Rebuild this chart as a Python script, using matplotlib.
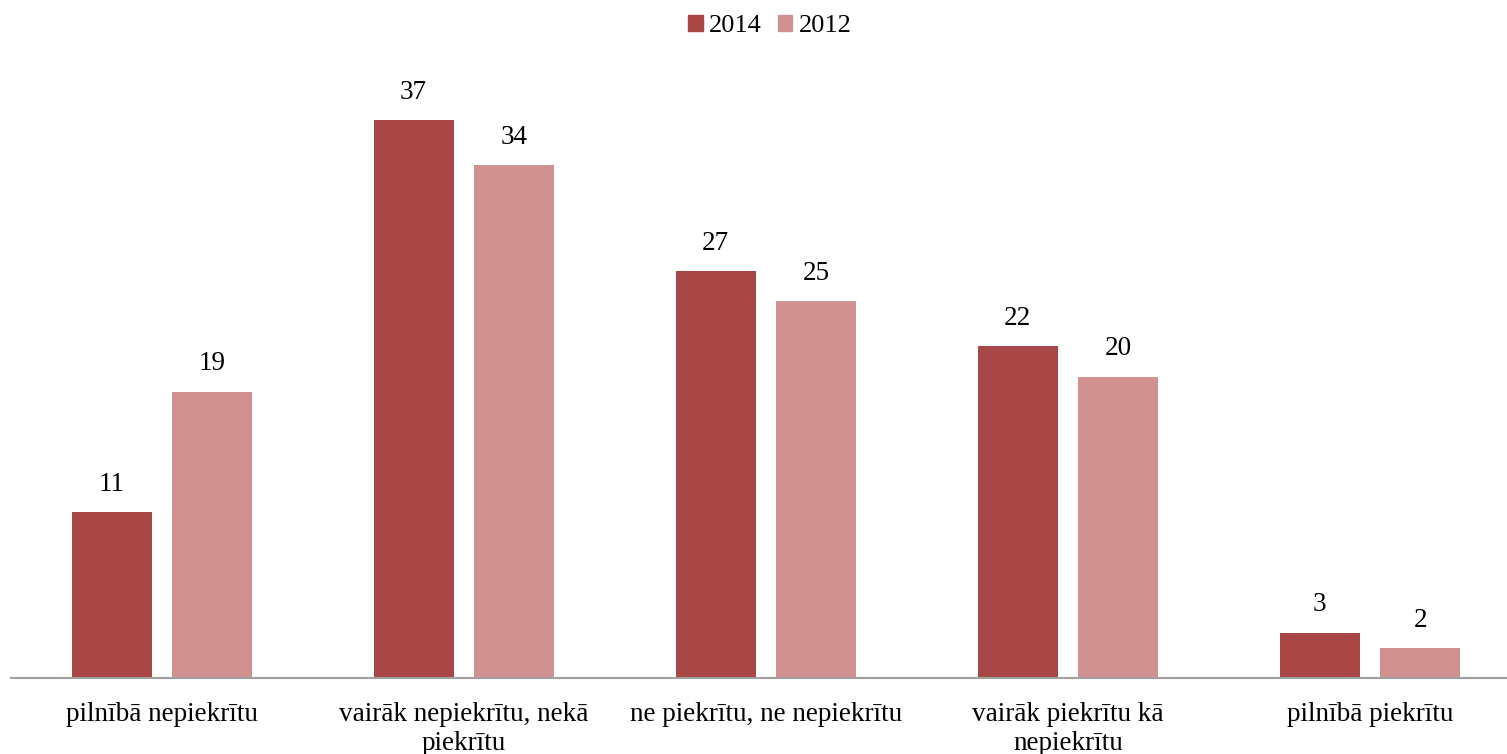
import numpy as np
import matplotlib.pyplot as plt
from matplotlib.patches import Patch

plt.rcParams["font.family"] = "Liberation Serif"
plt.rcParams["font.size"] = 19.5

categories = ["pilnībā nepiekrītu", "vairāk nepiekrītu, nekā\npiekrītu",
              "ne piekrītu, ne nepiekrītu", "vairāk piekrītu kā\nnepiekrītu",
              "pilnībā piekrītu"]
vals_2014 = [11, 37, 27, 22, 3]
vals_2012 = [19, 34, 25, 20, 2]
series = ["2014", "2012"]
colors = ["#A84745", "#D29191"]

fig = plt.figure(figsize=(15.07, 7.54), dpi=100)
ax = fig.add_axes([11 / 1507, 76 / 754, 1 - 11 / 1507, 603 / 754])

x = np.arange(len(categories))
w = 0.265
off = 0.167
for vals, dx, c in [(vals_2014, -off, colors[0]), (vals_2012, off, colors[1])]:
    bars = ax.bar(x + dx, vals, width=w, color=c)
    for b, v in zip(bars, vals):
        ax.annotate(str(v), (b.get_x() + b.get_width() / 2, v),
                    xytext=(0, 11), textcoords="offset points",
                    ha="center", va="bottom", fontsize=19.5)

ax.set_xlim(-0.5, 4.5 - 14 / 302)
ax.set_ylim(0, 40)
ax.set_yticks([])
ax.set_xticks(x)
ax.set_xticklabels(categories, fontsize=19.5, linespacing=1.22)
ax.tick_params(axis="x", length=0, pad=17)
for s in ["top", "right", "left"]:
    ax.spines[s].set_visible(False)
ax.spines["bottom"].set_color("#A0A0A0")
ax.spines["bottom"].set_linewidth(1.5)

handles = [Patch(color=c, label=s) for s, c in zip(series, colors)]
fig.legend(handles=handles, loc="upper center", bbox_to_anchor=(0.511, 1.012),
           ncol=2, frameon=False, fontsize=19, handlelength=0.55,
           handleheight=0.55, handletextpad=0.25, columnspacing=0.6)

fig.savefig("out.png", dpi=100)
